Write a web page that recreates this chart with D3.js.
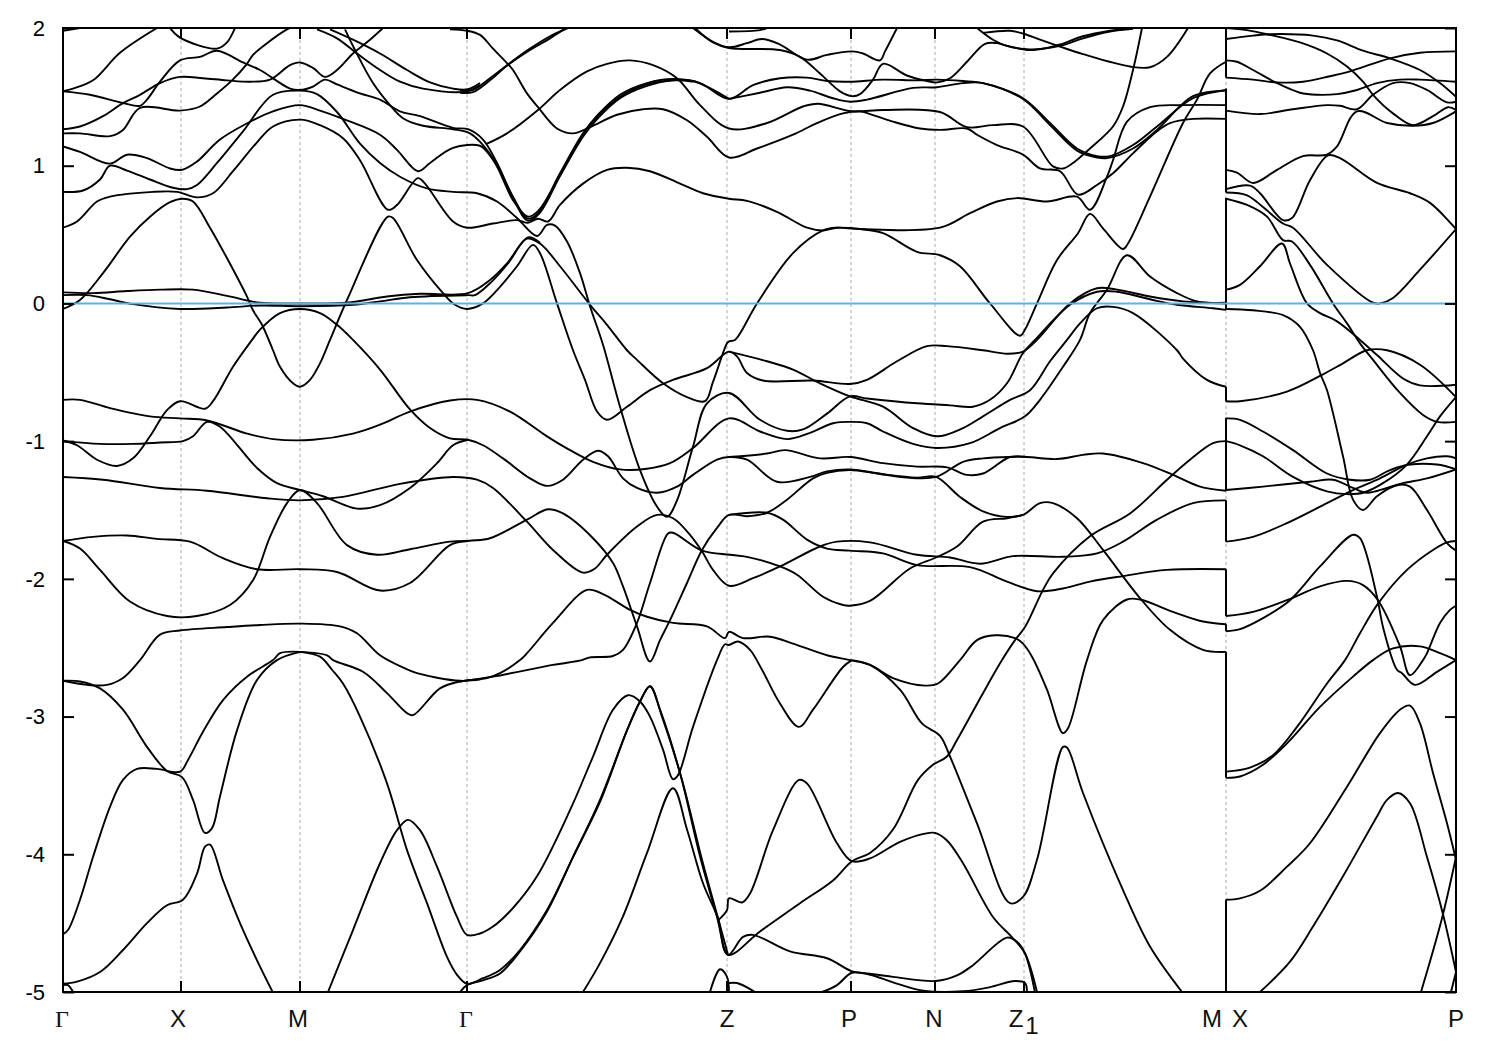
<!DOCTYPE html>
<html><head><meta charset="utf-8">
<script src="https://cdnjs.cloudflare.com/ajax/libs/d3/7.8.5/d3.min.js"></script>
<style>html,body{margin:0;padding:0;background:#fff}svg{display:block}</style>
</head><body><div id="c"></div>
<script>
// k = distance along the path (arbitrary units), E = energy in eV
const symPoints=[0,118,237,404,664,788,872,961,1163,1393];
const tickLabels=[["Γ",-1,1],["X",115,0],["M",235,0],["Γ",403,1],["Z",664,0],["P",786,0],["N",871,0],["Z",953,0],["M",1149,0],["X",1177,0],["P",1393,0]];
const yTicks=[-5,-4,-3,-2,-1,0,1,2];
const fermi=[0];
const jumps=[[2,1.64],[1.56,.805],[.765,0],[0,-.047],[-.605,-.71],[-.83,-1.355],[-1.43,-1.73],[-1.93,-2.27],[-2.33,-2.38],[-2.53,-3.445],[-4.33,-5]];

const b01=[[0,1.54],[10,1.56],[30,1.62],[57,1.82],[94,2.0]];
const b02=[[107,2.0],[117,1.93],[154,1.85],[164,1.895],[172,2.0]];
const b03=[[0,1.54],[27,1.515],[60,1.455],[77,1.435],[84,1.48],[97,1.61],[117,1.765],[137,1.79],[154,1.835],[180,1.75],[197,1.695],[227,1.56],[237,1.55],[250,1.575],[262,1.625],[274,1.59],[297,1.525],[317,1.48],[337,1.395],[357,1.36],[390,1.275],[405,1.265],[420,1.19],[434,1.02],[450,.775],[465,.615],[475,.655],[497,.945],[520,1.235],[535,1.37],[557,1.515],[584,1.60],[610,1.63],[637,1.60],[666,1.485],[690,1.585],[717,1.635],[744,1.64],[764,1.615],[787,1.61],[820,1.625],[854,1.62],[874,1.625],[900,1.615],[920,1.60],[960,1.49],[987,1.31],[1014,1.125],[1034,1.07],[1047,1.07],[1070,1.15],[1094,1.285],[1130,1.49],[1163,1.55]];
const b04=[[0,1.265],[17,1.285],[40,1.36],[60,1.455],[77,1.515],[97,1.60],[117,1.645],[140,1.635],[164,1.62],[187,1.61],[207,1.625],[227,1.73],[237,1.75],[250,1.71],[262,1.645],[274,1.695],[290,1.815],[307,1.915],[320,2.0]];
const b05=[[0,1.235],[17,1.235],[47,1.215],[60,1.26],[77,1.42],[117,1.40],[137,1.43],[154,1.525],[169,1.62],[184,1.74],[190,1.805],[204,1.89],[224,1.99],[227,2.0]];
const b06=[[0,1.14],[17,1.10],[47,1.015],[64,1.08],[84,1.055],[107,.98],[119,.97],[134,1.03],[157,1.19],[190,1.33],[210,1.395],[237,1.44],[257,1.40],[280,1.34],[317,1.225],[334,1.115],[355,.96],[367,1.02],[390,1.13],[417,1.145],[424,1.10],[434,.995],[450,.75],[465,.63],[475,.67],[497,.93],[520,1.225],[535,1.36],[557,1.50],[584,1.59],[610,1.62],[630,1.615],[666,1.485]];
const b07=[[0,.81],[20,.82],[37,.90],[47,1.0],[64,.965],[87,.90],[110,.84],[124,.83],[134,.86],[154,1.02],[180,1.25],[210,1.515],[237,1.545],[254,1.52],[274,1.39],[297,1.16],[317,1.02],[337,.92],[364,.835],[390,.81],[414,.80],[434,.74],[454,.62],[474,.49],[484,.57],[492,.565],[504,.45],[517,.22],[527,-.02],[540,-.30],[557,-.75],[577,-1.21],[594,-1.475],[604,-1.55],[614,-1.43],[630,-1.04],[644,-.725],[666,-.65],[697,-.845],[724,-.925],[740,-.915],[764,-.80],[787,-.675],[804,-.69],[854,-.725],[887,-.74],[910,-.75],[927,-.70],[944,-.58],[960,-.36],[972,-.265],[1007,-.01],[1034,.085],[1054,.085],[1087,.03],[1114,-.01],[1150,-.035],[1163,-.047]];
const b08=[[0,.55],[14,.595],[34,.74],[47,.775],[90,.81],[114,.81],[134,.77],[150,.80],[170,.96],[194,1.17],[210,1.285],[237,1.335],[257,1.295],[280,1.20],[297,1.04],[325,.68],[334,.715],[355,.91],[362,.87],[390,.595],[404,.55],[430,.58],[454,.605],[465,.585],[475,.615],[485,.595],[497,.715],[520,.87],[544,.97],[564,.985],[587,.96],[617,.87],[640,.80],[666,.76],[684,.745],[714,.665],[744,.55],[760,.53],[774,.55],[797,.54],[820,.51],[854,.375],[877,.35],[897,.27],[927,0],[957,-.235],[962,-.19],[974,0],[994,.315],[1015,.51],[1027,.65],[1040,.545],[1060,.395],[1065,.435],[1087,.775],[1120,1.31],[1134,1.48],[1147,1.67],[1163,1.755]];
const b09=[[0,-.04],[17,.025],[40,.22],[67,.485],[87,.63],[107,.735],[120,.76],[130,.74],[147,.55],[184,.05],[190,-.05],[199,-.155],[210,-.34],[217,-.46],[230,-.58],[237,-.605],[247,-.555],[257,-.435],[267,-.265],[284,.025],[325,.63],[330,.62],[354,.315],[380,.075],[392,-.01],[404,-.04],[420,0],[437,.12],[454,.27],[470,.425],[477,.365],[494,0],[510,-.34],[522,-.555],[534,-.785],[544,-.845],[564,-.75],[587,-.63],[610,-.555],[644,-.47],[666,-.35],[674,-.385],[684,-.505],[700,-.56],[750,-.56],[787,-.585],[804,-.555],[834,-.42],[864,-.31],[884,-.31],[920,-.34],[944,-.365],[960,-.35],[974,-.265],[1007,0],[1034,.11],[1054,.10],[1087,.05],[1120,.015],[1163,0]];
const b10=[[0,.08],[30,.075],[64,.09],[97,.10],[130,.10],[164,.055],[197,.005],[237,0],[284,.005],[324,.05],[357,.07],[405,.075],[427,.17],[444,.29],[464,.47],[477,.435],[497,.27],[527,-.01],[544,-.155],[564,-.34],[574,-.41],[600,-.58],[624,-.68],[642,-.71],[650,-.57],[664,-.29],[666,-.275],[672,-.265],[694,0],[730,.365],[760,.53],[774,.55],[797,.54],[877,.55],[907,.655],[934,.74],[954,.765],[984,.74],[1014,.775],[1027,.68],[1044,.92],[1050,1.04],[1064,1.32],[1087,1.425],[1120,1.44],[1163,1.44]];
const b11=[[0,.06],[24,.06],[47,.03],[70,-.005],[117,-.04],[164,-.03],[197,-.015],[237,-.02],[290,-.01],[317,.015],[347,.045],[405,.06],[412,.06],[429,.16],[445,.29],[465,.48],[477,.44]];
const b12=[[0,-.995],[14,-1.03],[34,-1.135],[54,-1.18],[70,-1.125],[87,-.965],[104,-.775],[117,-.71],[142,-.765],[150,-.71],[170,-.46],[189,-.265],[197,-.19],[217,-.07],[237,-.04],[257,-.07],[274,-.155],[290,-.265],[317,-.48],[347,-.77],[367,-.905],[387,-.98],[405,-.99],[420,-1.03],[440,-1.125],[467,-1.27],[484,-1.325],[500,-1.28],[520,-1.135],[535,-1.07],[545,-1.11],[560,-1.27],[574,-1.34],[594,-1.375],[614,-1.33],[630,-1.245],[654,-1.135],[666,-1.115],[684,-1.135],[714,-1.295],[747,-1.26],[764,-1.22],[787,-1.205],[820,-1.24],[854,-1.265],[873,-1.26],[897,-1.405],[920,-1.51],[944,-1.55],[960,-1.535],[977,-1.45],[990,-1.45],[1014,-1.56],[1040,-1.79],[1077,-2.14],[1107,-2.37],[1140,-2.515],[1163,-2.53]];
const b13=[[0,-.70],[17,-.70],[47,-.76],[87,-.82],[117,-.835],[144,-.85],[184,-.945],[210,-.985],[250,-.99],[290,-.945],[317,-.88],[347,-.785],[387,-.705],[414,-.70],[447,-.785],[484,-.965],[507,-1.065],[530,-1.15],[557,-1.205],[584,-1.20],[607,-1.16],[630,-1.05],[666,-.835],[697,-.93],[724,-.985],[747,-.94],[770,-.87],[787,-.86],[804,-.87],[820,-.93],[850,-1.02],[874,-1.05],[907,-1.015],[937,-.905],[962,-.82],[977,-.70],[1000,-.46],[1017,-.265],[1027,-.07],[1044,.10],[1064,.35],[1087,.195],[1114,.075],[1134,.015],[1163,.005]];
const b14=[[0,-1.0],[37,-1.02],[70,-1.02],[97,-1.01],[120,-1.0],[130,-.965],[144,-.86],[157,-.895],[194,-1.195],[214,-1.305],[237,-1.355],[260,-1.40],[294,-1.49],[317,-1.465],[347,-1.34],[374,-1.16],[390,-1.03],[405,-.99]];
const b15=[[0,-1.26],[40,-1.28],[97,-1.34],[144,-1.36],[204,-1.415],[237,-1.43],[280,-1.405],[337,-1.31],[390,-1.26],[414,-1.28],[430,-1.34],[464,-1.585],[490,-1.79],[520,-1.955],[532,-1.925],[544,-1.825],[574,-1.62],[594,-1.535],[610,-1.56],[627,-1.68],[639,-1.80],[650,-1.935],[666,-2.05],[690,-1.995],[717,-1.91],[757,-1.765],[774,-1.73],[807,-1.735],[854,-1.825],[887,-1.845],[917,-1.89],[950,-1.835],[1000,-1.84],[1034,-1.815],[1060,-1.73],[1094,-1.57],[1130,-1.45],[1163,-1.43]];
const b16=[[0,-1.725],[30,-1.695],[64,-1.685],[94,-1.71],[127,-1.73],[160,-1.85],[194,-1.93],[237,-1.93],[274,-1.95],[317,-2.085],[347,-2.03],[387,-1.755],[405,-1.725],[427,-1.705],[464,-1.57],[485,-1.495],[500,-1.525],[530,-1.705],[550,-1.885],[560,-2.055],[574,-2.345],[587,-2.60],[597,-2.445],[607,-2.30],[624,-2.03],[639,-1.79],[654,-1.63],[666,-1.535],[684,-1.545],[704,-1.52],[724,-1.425],[750,-1.27],[764,-1.23],[787,-1.21],[814,-1.235],[844,-1.265],[873,-1.26],[900,-1.15],[920,-1.125],[947,-1.115],[964,-1.115],[994,-1.13],[1020,-1.10],[1040,-1.09],[1080,-1.16],[1110,-1.245],[1137,-1.33],[1163,-1.36]];
const b17=[[0,-1.725],[17,-1.78],[37,-1.935],[67,-2.165],[104,-2.27],[134,-2.27],[167,-2.19],[190,-2.01],[207,-1.695],[224,-1.45],[237,-1.355],[254,-1.45],[284,-1.755],[314,-1.825],[347,-1.785],[387,-1.73],[405,-1.725]];
const b18=[[0,-2.74],[24,-2.77],[44,-2.77],[60,-2.72],[77,-2.59],[97,-2.405],[117,-2.375],[164,-2.35],[197,-2.335],[237,-2.325],[277,-2.345],[294,-2.395],[317,-2.555],[345,-2.66],[354,-2.685],[397,-2.74],[424,-2.72],[437,-2.685],[457,-2.59],[464,-2.54],[490,-2.32],[524,-2.08],[540,-2.11],[567,-2.225],[584,-2.275],[610,-2.32],[644,-2.345],[662,-2.43],[666,-2.385],[680,-2.43],[707,-2.42],[730,-2.47],[764,-2.555],[787,-2.59],[807,-2.625],[830,-2.72],[862,-2.775],[875,-2.76],[897,-2.59],[914,-2.445],[932,-2.41],[952,-2.43],[960,-2.47],[969,-2.565],[984,-2.805],[1000,-3.12],[1005,-3.085],[1024,-2.59],[1040,-2.30],[1064,-2.15],[1077,-2.15],[1110,-2.24],[1140,-2.31],[1163,-2.33]];
const b19=[[397,-2.745],[430,-2.71],[490,-2.625],[519,-2.59],[527,-2.57],[550,-2.56],[560,-2.515],[574,-2.32],[587,-2.03],[605,-1.67],[610,-1.665],[639,-1.795],[667,-1.825],[684,-1.84],[717,-1.91],[734,-1.97],[760,-2.13],[780,-2.19],[787,-2.195],[807,-2.16],[847,-1.925],[873,-1.845],[894,-1.765],[920,-1.585],[944,-1.56],[960,-1.535]];
const b20=[[666,-1.535],[704,-1.52],[720,-1.57],[744,-1.715],[764,-1.78],[787,-1.795],[820,-1.815],[854,-1.9],[907,-1.915],[944,-2.02],[974,-2.09],[1000,-2.07],[1027,-2.02],[1060,-1.98],[1104,-1.935],[1163,-1.93]];
const b21=[[666,-1.115],[704,-1.09],[722,-1.065],[757,-1.125],[787,-1.115],[820,-1.16],[854,-1.185],[884,-1.19],[904,-1.245],[920,-1.235],[947,-1.115],[964,-1.115]];
const b22=[[666,-.35],[704,-.42],[730,-.48],[757,-.58],[787,-.675],[820,-.75],[850,-.905],[874,-.965],[900,-.905],[920,-.82],[947,-.70],[967,-.63],[987,-.42],[1004,-.265],[1017,-.145],[1034,-.035],[1050,-.025],[1070,-.07],[1114,-.34],[1120,-.40],[1144,-.555],[1163,-.605]];
const b23=[[265,-5],[290,-4.55],[317,-4.065],[334,-3.825],[345,-3.75],[357,-3.825],[374,-4.09],[394,-4.455],[404,-4.585],[417,-4.575],[430,-4.525],[450,-4.39],[474,-4.16],[507,-3.68],[530,-3.29],[550,-2.95],[565,-2.845],[577,-2.89],[587,-3.0],[600,-3.24],[610,-3.455],[615,-3.425],[630,-3.075],[654,-2.59],[662,-2.475],[666,-2.48],[675,-2.455],[687,-2.515],[699,-2.66],[717,-2.905],[736,-3.075],[750,-2.95],[780,-2.64],[789,-2.59]];
const b24=[[237,-2.53],[257,-2.565],[269,-2.66],[280,-2.76],[297,-3.0],[324,-3.485],[344,-3.97],[364,-4.355],[384,-4.745],[394,-4.875],[404,-4.94],[420,-4.9],[437,-4.84],[457,-4.695],[484,-4.405],[510,-4.02],[537,-3.605],[564,-3.1],[577,-2.89],[587,-2.78],[597,-2.95],[617,-3.41],[637,-4.015],[654,-4.455],[665,-4.73],[680,-4.6],[690,-4.585],[727,-4.705],[764,-4.755],[789,-4.85],[804,-4.865],[830,-4.89],[873,-4.92],[894,-4.88],[910,-4.805],[944,-4.605],[954,-4.635],[962,-4.72],[972,-5.005]];
const b25=[[237,-2.53],[264,-2.555],[270,-2.59],[300,-2.675],[324,-2.83],[344,-2.975],[350,-2.99],[377,-2.795],[397,-2.745],[417,-2.73]];
const b26=[[0,-4.58],[5,-4.55],[17,-4.33],[30,-4.02],[47,-3.655],[60,-3.46],[74,-3.38],[94,-3.38],[117,-3.40],[125,-3.315],[140,-3.11],[160,-2.88],[184,-2.71],[210,-2.59],[217,-2.54],[237,-2.53]];
const b27=[[0,-2.74],[17,-2.745],[37,-2.795],[60,-2.95],[84,-3.22],[104,-3.395],[119,-3.44],[130,-3.605],[142,-3.845],[149,-3.81],[157,-3.58],[174,-3.10],[194,-2.735],[214,-2.59],[237,-2.53]];
const b28=[[0,-4.94],[14,-4.925],[37,-4.855],[60,-4.695],[84,-4.50],[104,-4.37],[120,-4.33],[134,-4.14],[142,-3.945],[147,-3.93],[160,-4.19],[177,-4.50],[194,-4.77],[210,-5.005]];
const b29=[[0,-4.95],[5,-4.95],[10,-5.0]];
const b30=[[397,-5.0],[404,-4.95],[420,-4.915],[437,-4.865],[457,-4.705],[484,-4.415],[510,-4.02],[537,-3.62],[564,-3.1],[577,-2.89],[587,-2.78],[599,-3.0],[619,-3.46],[639,-4.04],[656,-4.49],[665,-4.73]];
const b31=[[520,-5.0],[537,-4.79],[560,-4.45],[584,-3.99],[610,-3.52],[624,-3.82],[640,-4.21],[655,-4.465],[665,-4.73],[697,-4.56],[737,-4.355],[770,-4.19],[789,-4.05],[807,-3.99],[830,-3.82],[855,-3.46],[870,-3.35],[884,-3.29],[894,-3.17],[920,-2.83],[939,-2.59],[952,-2.445],[962,-2.35],[980,-2.08],[990,-1.96],[1027,-1.69],[1067,-1.525],[1104,-1.28],[1127,-1.135],[1150,-1.015],[1163,-1.0]];
const b32=[[655,-4.48],[664,-4.405],[666,-4.32],[679,-4.35],[687,-4.285],[710,-3.825],[736,-3.46],[744,-3.485],[774,-3.92],[789,-4.05],[807,-4.03],[837,-3.91],[862,-3.85],[872,-3.845],[884,-3.9],[900,-4.065],[930,-4.455],[950,-4.61],[962,-4.72],[974,-5.0]];
const b33=[[647,-5],[657,-4.835],[664,-4.89],[666,-5]];
const b34=[[666,-4.935],[674,-4.935],[692,-5]];
const b35=[[759,-5],[774,-4.95],[789,-4.86],[807,-4.875],[830,-4.93],[860,-4.99],[900,-4.995],[927,-4.965],[952,-4.92],[962,-4.935],[964,-5.0]];
const b36=[[789,-2.59],[807,-2.625],[837,-2.805],[859,-3.05],[877,-3.14],[887,-3.29],[914,-3.775],[947,-4.355],[960,-4.31],[974,-4.04],[1000,-3.22],[1004,-3.225],[1020,-3.555],[1060,-4.26],[1087,-4.67],[1119,-5.0]];
const b37=[[630,2.0],[650,1.9],[666,1.86],[684,1.89],[699,1.92],[717,1.88],[744,1.77],[764,1.805],[789,1.83],[800,1.815],[817,1.765],[822,1.83],[834,2.0]];
const b38=[[632,2.0],[650,1.895],[666,1.855],[717,1.84],[737,1.79],[757,1.67],[777,1.54],[789,1.505],[797,1.52],[810,1.625],[820,1.74],[844,1.655],[864,1.615],[874,1.605],[887,1.635],[904,1.755],[922,1.885],[934,1.89],[944,1.87],[967,1.84],[984,1.855],[997,1.88],[1020,1.94],[1047,1.98],[1070,2.0]];
const b39=[[666,1.975],[697,1.985],[704,2.0]];
const b40=[[914,2.0],[930,1.915],[944,1.87],[967,1.845],[997,1.87],[1020,1.925],[1047,1.975],[1070,1.995]];
const b41=[[920,1.965],[947,1.98],[960,1.96],[977,1.915],[997,1.865],[1020,1.81],[1067,1.72],[1087,1.715],[1104,1.79],[1125,2.0]];
const b42=[[397,1.545],[410,1.55],[427,1.635],[444,1.73],[467,1.85],[487,1.94],[505,2.0]];
const b43=[[397,1.53],[410,1.535],[427,1.62],[444,1.725],[467,1.84],[487,1.925],[503,2.0]];
const b44=[[254,1.99],[274,1.925],[294,1.815],[314,1.71],[337,1.61],[360,1.56],[404,1.54],[417,1.585]];
const b45=[[267,1.99],[290,1.915],[317,1.815],[344,1.695],[367,1.605],[390,1.56],[405,1.555],[417,1.60]];
const b46=[[282,1.99],[292,1.84],[310,1.60],[327,1.44],[340,1.345],[360,1.29],[390,1.265],[407,1.235],[420,1.15],[434,1.005],[450,.765],[465,.60],[477,.66],[497,.925],[520,1.21],[535,1.345],[557,1.49],[584,1.58],[610,1.62],[630,1.61]];
const b47=[[0,1.98],[17,2.0]];
const b48=[[387,1.99],[404,1.98],[417,1.95],[430,1.85],[444,1.745],[450,1.695],[464,1.525],[475,1.425],[494,1.27],[510,1.235],[527,1.28],[554,1.37],[580,1.41],[600,1.41],[624,1.33],[644,1.21],[666,1.06],[694,1.125],[730,1.225],[754,1.31],[780,1.38],[797,1.395],[807,1.375],[830,1.32],[857,1.27],[877,1.26],[904,1.27],[914,1.225],[934,1.15],[960,1.08],[977,.98],[997,.96],[1015,.79],[1034,.86],[1050,.945],[1070,1.09],[1094,1.25],[1107,1.31],[1130,1.34],[1163,1.34]];
const b49=[[424,1.16],[444,1.235],[475,1.405],[497,1.55],[524,1.685],[544,1.74],[567,1.765],[590,1.73],[614,1.635],[637,1.44],[666,1.27],[704,1.31],[740,1.43],[755,1.45],[789,1.395],[820,1.405],[877,1.39],[904,1.28],[930,1.295],[960,1.285],[990,.995],[1000,.98],[1010,1.02],[1020,1.08],[1027,1.125],[1050,1.285],[1060,1.43],[1070,1.695],[1079,2.0]];
const b50=[[666,1.485],[697,1.53],[724,1.57],[747,1.545],[770,1.49],[787,1.465],[804,1.48],[850,1.565],[874,1.57],[900,1.60],[920,1.60],[960,1.485],[987,1.295],[1014,1.11],[1034,1.06],[1044,1.055],[1070,1.125],[1094,1.26],[1130,1.505],[1163,1.545]];
// X to P panel
const r01=[[1163,2.0],[1184,1.985],[1207,1.95],[1237,1.895],[1264,1.815],[1284,1.72],[1300,1.61],[1310,1.515],[1330,1.38],[1350,1.295],[1370,1.36],[1385,1.425],[1393,1.405]];
const r02=[[1163,1.92],[1190,1.945],[1207,1.955],[1250,1.945],[1274,1.91],[1300,1.835],[1327,1.78],[1357,1.695],[1377,1.6],[1393,1.50]];
const r03=[[1163,1.765],[1174,1.755],[1190,1.695],[1214,1.6],[1237,1.53],[1254,1.515],[1274,1.52],[1294,1.55],[1314,1.6],[1337,1.625],[1357,1.625],[1393,1.61]];
const r04=[[1163,1.64],[1190,1.625],[1214,1.605],[1240,1.61],[1267,1.65],[1287,1.685],[1327,1.78],[1357,1.82],[1393,1.83]];
const r05=[[1163,1.40],[1197,1.375],[1230,1.41],[1264,1.44],[1277,1.435],[1294,1.41],[1310,1.515],[1330,1.6],[1347,1.6],[1364,1.55],[1384,1.46],[1393,1.465]];
const r06=[[1163,.97],[1174,.95],[1190,.875],[1214,.97],[1240,1.07],[1264,1.08],[1274,1.14],[1294,1.395],[1324,1.31],[1350,1.29],[1370,1.31],[1393,1.395]];
const r07=[[1163,.83],[1187,.855],[1197,.80],[1220,.605],[1229,.62],[1247,.895],[1265,1.075],[1277,1.055],[1314,.875],[1347,.80],[1367,.73],[1393,.54]];
const r08=[[1163,.805],[1184,.785],[1200,.70],[1220,.58],[1230,.55],[1264,.28],[1310,.005],[1317,0],[1330,.04],[1357,.245],[1393,.54]];
const r09=[[1163,.76],[1184,.715],[1204,.63],[1220,.46],[1229,.45],[1247,.28],[1270,0],[1284,-.145],[1297,-.29],[1310,-.41],[1337,-.65],[1360,-.81],[1374,-.86],[1393,-.86]];
const r10=[[1163,.10],[1177,.135],[1197,.27],[1219,.435],[1227,.29],[1244,0],[1257,-.07],[1274,-.13],[1297,-.265],[1314,-.375],[1340,-.545],[1357,-.595],[1393,-.59]];
const r11=[[1163,-.04],[1190,-.05],[1220,-.085],[1237,-.17],[1250,-.34],[1257,-.505],[1264,-.63],[1280,-1.11],[1290,-1.425],[1300,-1.50],[1314,-1.40],[1334,-1.32],[1347,-1.33],[1364,-1.50],[1384,-1.74],[1393,-1.795]];
const r12=[[1163,-.71],[1177,-.71],[1224,-.64],[1260,-.515],[1280,-.435],[1304,-.34],[1324,-.34],[1357,-.445],[1393,-.68]];
const r13=[[1163,-.835],[1177,-.845],[1200,-.93],[1230,-1.065],[1264,-1.235],[1287,-1.28],[1307,-1.28],[1327,-1.21],[1347,-1.17],[1374,-1.17],[1393,-1.205]];
const r14=[[1163,-1.0],[1177,-1.03],[1200,-1.11],[1230,-1.26],[1264,-1.365],[1284,-1.385],[1300,-1.375],[1320,-1.305],[1344,-1.17],[1364,-.965],[1377,-.82],[1393,-.68]];
const r15=[[1163,-1.355],[1200,-1.33],[1247,-1.295],[1270,-1.28],[1290,-1.34],[1304,-1.375],[1324,-1.34],[1340,-1.305],[1364,-1.27],[1393,-1.205]];
const r16=[[1163,-1.73],[1190,-1.695],[1224,-1.595],[1264,-1.45],[1290,-1.355],[1317,-1.27],[1344,-1.17],[1364,-1.125],[1384,-1.11],[1393,-1.125]];
const r17=[[1163,-2.27],[1190,-2.24],[1224,-2.155],[1257,-2.055],[1284,-2.015],[1300,-2.045],[1315,-2.155],[1337,-2.49],[1347,-2.70],[1360,-2.59],[1364,-2.54],[1377,-2.32],[1387,-2.225],[1393,-2.195]];
const r18=[[1163,-2.38],[1177,-2.365],[1200,-2.285],[1227,-2.155],[1257,-1.91],[1290,-1.68],[1297,-1.705],[1314,-2.13],[1320,-2.35],[1334,-2.66],[1339,-2.685],[1352,-2.77],[1374,-2.675],[1393,-2.59]];
const r19=[[1163,-3.40],[1187,-3.37],[1210,-3.28],[1234,-3.075],[1264,-2.76],[1282,-2.59],[1297,-2.395],[1315,-2.18],[1344,-1.935],[1370,-1.79],[1384,-1.735],[1393,-1.725]];
const r20=[[1163,-3.445],[1177,-3.435],[1200,-3.35],[1224,-3.195],[1257,-2.93],[1290,-2.71],[1310,-2.59],[1330,-2.505],[1357,-2.49],[1377,-2.54],[1393,-2.59]];
const r21=[[1163,-4.33],[1177,-4.32],[1197,-4.265],[1224,-4.09],[1247,-3.92],[1284,-3.51],[1317,-3.12],[1337,-2.95],[1347,-2.92],[1357,-3.05],[1370,-3.41],[1384,-3.775],[1393,-4.04]];
const r22=[[1197,-5],[1227,-4.78],[1250,-4.525],[1280,-4.16],[1314,-3.725],[1324,-3.605],[1335,-3.555],[1347,-3.63],[1364,-4.02],[1380,-4.435],[1393,-4.855]];
const r23=[[1358,-5],[1379,-4.465],[1393,-4.02]];
const r24=[[1388,-5],[1393,-4.855]];

const bands=[b01,b02,b03,b04,b05,b06,b07,b08,b09,b10,b11,b12,b13,b14,b15,b16,b17,b18,b19,b20,b21,b22,b23,b24,b25,b26,b27,b28,b29,b30,b31,b32,b33,b34,b35,b36,b37,b38,b39,b40,b41,b42,b43,b44,b45,b46,b47,b48,b49,b50,r01,r02,r03,r04,r05,r06,r07,r08,r09,r10,r11,r12,r13,r14,r15,r16,r17,r18,r19,r20,r21,r22,r23,r24];

const W=1500,H=1050,L=63,R=1456,T=28,B=992;
const x=d3.scaleLinear().domain([0,1393]).range([L,R]);
const y=d3.scaleLinear().domain([-5,2]).range([B,T]);
const svg=d3.select("#c").append("svg").attr("width",W).attr("height",H);
svg.append("defs").append("clipPath").attr("id","pa").append("rect").attr("x",L).attr("y",T).attr("width",R-L).attr("height",B-T);
const font="'Liberation Sans',Arial,sans-serif";

// dashed guides at the high-symmetry points
svg.append("g").selectAll("line").data(symPoints.slice(1,-1)).join("line")
  .attr("x1",d=>x(d)).attr("x2",d=>x(d)).attr("y1",T).attr("y2",B)
  .attr("stroke","#aaa").attr("stroke-width",1).attr("stroke-dasharray","3,3");

const line=d3.line().x(d=>x(d[0])).y(d=>y(d[1])).curve(d3.curveCatmullRom.alpha(0.5));
const plot=svg.append("g").attr("clip-path","url(#pa)");
plot.selectAll("path.band").data(bands).join("path").attr("class","band")
  .attr("d",line).attr("fill","none").attr("stroke","#000").attr("stroke-width",1.9).attr("stroke-linejoin","round");
plot.selectAll("line.jump").data(jumps).join("line").attr("class","jump")
  .attr("x1",x(1163)).attr("x2",x(1163)).attr("y1",d=>y(d[0])).attr("y2",d=>y(d[1]))
  .attr("stroke","#000").attr("stroke-width",2);
plot.selectAll("line.fermi").data(fermi).join("line").attr("class","fermi")
  .attr("x1",L).attr("x2",R).attr("y1",d=>y(d)).attr("y2",d=>y(d))
  .attr("stroke","#56b4e9").attr("stroke-width",2);

// frame and ticks
svg.append("rect").attr("x",L).attr("y",T).attr("width",R-L).attr("height",B-T).attr("fill","none").attr("stroke","#000").attr("stroke-width",2);
const tl=11;
const axL=d3.axisLeft(y).tickValues(yTicks).tickFormat(d3.format("d")).tickSize(-tl).tickPadding(tl+7);
const gy=svg.append("g").attr("transform",`translate(${L},0)`).call(axL);
gy.select(".domain").remove();
gy.selectAll("line").attr("stroke","#000").attr("stroke-width",2);
gy.selectAll("text").attr("font-family",font).attr("font-size",22).attr("fill","#000").text(d=>String(d)).attr("dy",".33em");
const axR=d3.axisRight(y).tickValues(yTicks).tickFormat("").tickSize(-tl);
const gr=svg.append("g").attr("transform",`translate(${R},0)`).call(axR);
gr.select(".domain").remove();
gr.selectAll("line").attr("stroke","#000").attr("stroke-width",2);
const xt=symPoints.slice(1,-1);
for(const [a,b] of [[B,B-tl],[T,T+tl]]){
  svg.append("g").selectAll("line").data(xt).join("line")
    .attr("x1",d=>x(d)).attr("x2",d=>x(d)).attr("y1",a).attr("y2",b)
    .attr("stroke","#000").attr("stroke-width",2);
}
svg.append("g").selectAll("text").data(tickLabels).join("text")
  .attr("x",d=>x(d[1])).attr("y",1027).attr("text-anchor","middle").attr("font-size",24)
  .attr("font-family",d=>d[2]?"'Liberation Serif',serif":font).attr("fill","#111").text(d=>d[0]);
svg.append("text").attr("x",x(969)).attr("y",1034).attr("text-anchor","middle").attr("font-size",24).attr("font-family",font).attr("fill","#111").text("1");
</script></body></html>
